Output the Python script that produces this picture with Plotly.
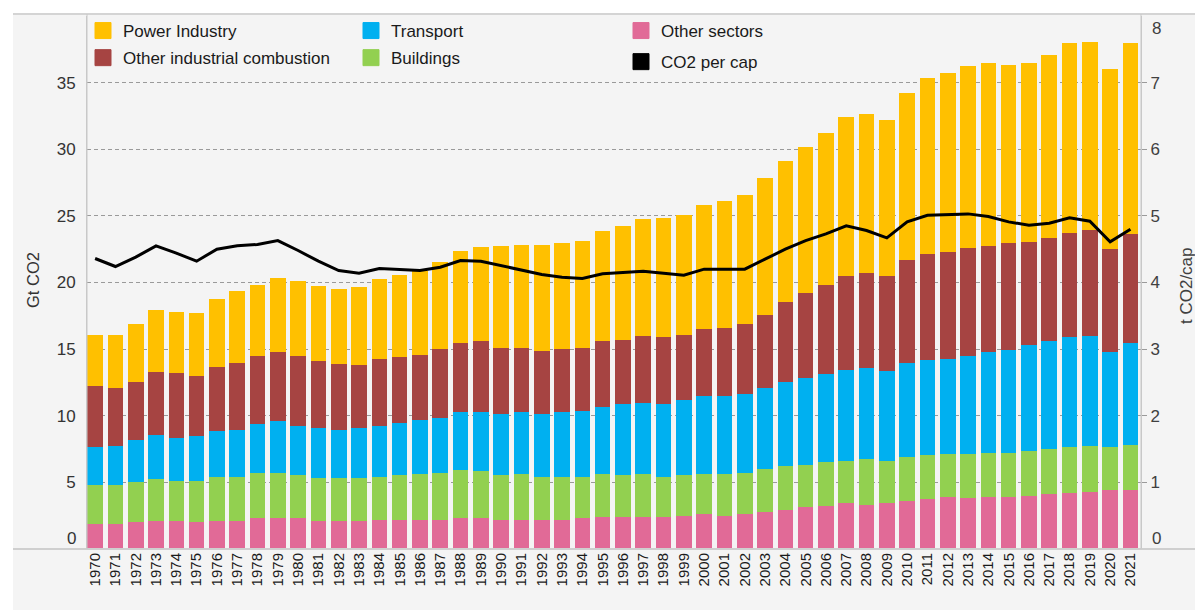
import plotly.graph_objects as go

years = list(range(1970, 2022))

other_sectors = [1.90, 1.90, 2.00, 2.09, 2.09, 2.00, 2.09, 2.09, 2.29, 2.29,
                 2.29, 2.09, 2.09, 2.09, 2.19, 2.19, 2.19, 2.19, 2.29, 2.29,
                 2.19, 2.19, 2.19, 2.19, 2.29, 2.39, 2.39, 2.39, 2.39, 2.49,
                 2.59, 2.49, 2.59, 2.79, 2.92, 3.12, 3.22, 3.42, 3.32, 3.42,
                 3.62, 3.72, 3.92, 3.82, 3.92, 3.92, 4.01, 4.11, 4.21, 4.31,
                 4.41, 4.41]
buildings = [2.91, 2.91, 3.01, 3.15, 3.05, 3.14, 3.35, 3.35, 3.45, 3.45,
             3.25, 3.25, 3.25, 3.25, 3.25, 3.35, 3.45, 3.55, 3.65, 3.55,
             3.35, 3.45, 3.25, 3.25, 3.15, 3.25, 3.15, 3.25, 3.05, 3.05,
             3.05, 3.15, 3.15, 3.24, 3.31, 3.21, 3.31, 3.21, 3.41, 3.21,
             3.31, 3.31, 3.21, 3.31, 3.31, 3.31, 3.32, 3.42, 3.42, 3.42,
             3.22, 3.42]
transport = [2.82, 2.92, 3.14, 3.31, 3.21, 3.31, 3.41, 3.51, 3.64, 3.84,
             3.71, 3.71, 3.61, 3.71, 3.81, 3.91, 4.01, 4.11, 4.31, 4.41,
             4.61, 4.61, 4.71, 4.81, 4.91, 5.01, 5.31, 5.31, 5.41, 5.61,
             5.81, 5.81, 5.91, 6.04, 6.34, 6.54, 6.64, 6.84, 6.84, 6.74,
             7.04, 7.13, 7.13, 7.33, 7.53, 7.73, 7.96, 8.06, 8.26, 8.26,
             7.13, 7.66]
other_industrial = [4.64, 4.34, 4.42, 4.74, 4.84, 4.54, 4.84, 5.04, 5.11, 5.21,
                    5.24, 5.04, 4.94, 4.74, 5.04, 4.94, 4.94, 5.14, 5.24, 5.34,
                    4.94, 4.84, 4.74, 4.74, 4.74, 4.94, 4.84, 5.04, 5.04, 4.93,
                    5.03, 5.13, 5.23, 5.51, 5.93, 6.36, 6.66, 7.05, 7.15, 7.15,
                    7.75, 7.96, 8.06, 8.16, 7.96, 7.98, 7.75, 7.75, 7.85, 7.95,
                    7.78, 8.15]
power_industry = [3.81, 4.01, 4.34, 4.64, 4.62, 4.74, 5.04, 5.34, 5.36, 5.53,
                  5.66, 5.66, 5.66, 5.86, 5.96, 6.16, 6.28, 6.56, 6.85, 7.05,
                  7.65, 7.75, 7.95, 7.95, 8.05, 8.25, 8.55, 8.75, 8.95, 8.96,
                  9.36, 9.55, 9.70, 10.28, 10.60, 10.97, 11.39, 11.90, 11.90, 11.70,
                  12.49, 13.22, 13.42, 13.64, 13.74, 13.39, 13.42, 13.72, 14.22, 14.09,
                  13.49, 14.32]
co2_per_cap = [4.36, 4.24, 4.38, 4.55, 4.44, 4.32, 4.50, 4.55, 4.57, 4.63,
               4.48, 4.32, 4.18, 4.14, 4.21, 4.19, 4.18, 4.23, 4.33, 4.32,
               4.25, 4.19, 4.12, 4.08, 4.06, 4.13, 4.15, 4.17, 4.14, 4.11,
               4.20, 4.20, 4.20, 4.35, 4.50, 4.63, 4.73, 4.85, 4.78, 4.67,
               4.91, 5.01, 5.02, 5.03, 4.99, 4.91, 4.86, 4.89, 4.97, 4.92,
               4.61, 4.80]

left_ticks = [5, 10, 15, 20, 25, 30, 35]
right_ticks = [1, 2, 3, 4, 5, 6, 7, 8]
left_title = "Gt CO2"
right_title = "t CO2/cap"

series = [
    ("Other sectors", other_sectors, "#E16A97"),
    ("Buildings", buildings, "#92D050"),
    ("Transport", transport, "#00B0F0"),
    ("Other industrial combustion", other_industrial, "#A64442"),
    ("Power Industry", power_industry, "#FFC000"),
]

FONT = "Liberation Sans, Arial, sans-serif"
BG = "#f4f4f4"

fig = go.Figure()
for name, vals, col in series:
    fig.add_trace(go.Bar(x=years, y=vals, name=name, marker=dict(color=col, line=dict(width=0)),
                         showlegend=False))

fig.add_trace(go.Scatter(x=years, y=co2_per_cap, yaxis="y2", mode="lines", name="CO2 per cap",
                         line=dict(color="black", width=3), showlegend=False))

# legend entries (3 columns)
legend_items = [
    ("Power Industry", "#FFC000", "legend"),
    ("Other industrial combustion", "#A64442", "legend"),
    ("Transport", "#00B0F0", "legend2"),
    ("Buildings", "#92D050", "legend2"),
    ("Other sectors", "#E16A97", "legend3"),
    ("CO2 per cap", "#000000", "legend3"),
]
for name, col, lg in legend_items:
    fig.add_trace(go.Scatter(x=[None], y=[None], mode="markers", name=name, legend=lg,
                             legendgroup=name,
                             marker=dict(symbol="square", size=16, color=col,
                                         line=dict(color=col, width=1))))

# The page body has an 8px margin, so the figure is drawn 8px in from the window edge.
OFF = 8
W, H = 1203 - OFF, 610 - OFF
PL, PR, PT, PB = 87, 1141, 16, 549   # plot area in window pixels
L, T = PL - OFF, PT - OFF
R = W - (PR - OFF)
B = H - (PB - OFF)
pw, ph = PR - PL, PB - PT


def px(x):
    return (x - PL) / pw


def py(y):
    return (PB - y) / ph


def cx(x):
    return (x - OFF) / W


def cy(y):
    return 1 - (y - OFF) / H


leg_common = dict(font=dict(family=FONT, size=17, color="#1a1a1a"), bgcolor="rgba(0,0,0,0)",
                  xref="container", yref="container",
                  yanchor="top", xanchor="left", y=cy(13), tracegroupgap=2)

fig.update_layout(
    width=W, height=H,
    margin=dict(l=L, r=R, t=T, b=B, pad=0, autoexpand=False),
    paper_bgcolor="white", plot_bgcolor=BG,
    barmode="stack", bargap=0.23,
    font=dict(family=FONT, color="#333333"),
    legend=dict(x=cx(83), **leg_common),
    legend2=dict(x=cx(351), **leg_common),
    legend3=dict(x=cx(621), **{**leg_common, "tracegroupgap": 6}),
    xaxis=dict(
        range=[1969.6, 2021.52], tickmode="array", tickvals=years, ticktext=[str(y) for y in years],
        tickangle=-90, tickfont=dict(family=FONT, size=15, color="#1a1a1a"),
        showgrid=False, zeroline=False, showline=False, ticks="", ticklen=0, automargin=False,
    ),
    yaxis=dict(
        range=[0, 40], tickmode="array", tickvals=left_ticks, ticktext=[str(v) for v in left_ticks],
        tickfont=dict(family=FONT, size=17, color="#333333"), automargin=False,
        showgrid=True, gridcolor="#9a9a9a", griddash="4px,3px", gridwidth=1,
        zeroline=False, showline=True, linecolor="#c8c8c8", linewidth=1,
        ticks="outside", ticklen=7, tickcolor="rgba(0,0,0,0)",
    ),
    yaxis2=dict(
        range=[0, 8], overlaying="y", side="right", tickmode="array", tickvals=right_ticks[:-1],
        ticktext=[str(v) for v in right_ticks[:-1]], automargin=False,
        tickfont=dict(family=FONT, size=17, color="#404040"),
        showgrid=False, zeroline=False, showline=True, linecolor="#c8c8c8", linewidth=1,
        ticks="outside", ticklen=5, tickcolor="#9a9a9a",
    ),
    shapes=[
        dict(type="rect", xref="paper", yref="paper", x0=px(13), x1=px(1210), y0=py(620), y1=py(14),
             fillcolor=BG, line=dict(width=0), layer="below"),
        dict(type="line", xref="paper", yref="paper", x0=px(13), x1=px(1210), y0=py(14), y1=py(14),
             line=dict(color="#d4d4d4", width=2), layer="above"),
        dict(type="line", xref="paper", yref="paper", x0=px(13), x1=px(1210), y0=0, y1=0,
             line=dict(color="#cfcfcf", width=2), layer="above"),
        dict(type="line", xref="paper", yref="paper", x0=0, x1=0, y0=0, y1=py(14),
             line=dict(color="#c8c8c8", width=1), layer="above"),
        dict(type="line", xref="paper", yref="paper", x0=1, x1=1, y0=0, y1=py(14),
             line=dict(color="#c8c8c8", width=1), layer="above"),
    ],
    annotations=[
        dict(text="0", xref="paper", yref="y", x=0, y=0, xanchor="right", yanchor="middle",
             xshift=-9, yshift=11, showarrow=False, font=dict(family=FONT, size=17, color="#333333")),
        dict(text="0", xref="paper", yref="y2", x=1, y=0, xanchor="left", yanchor="middle",
             xshift=9, yshift=11, showarrow=False, font=dict(family=FONT, size=17, color="#404040")),
        dict(text=str(right_ticks[-1]), xref="paper", yref="y2", x=1, y=right_ticks[-1],
             xanchor="left", yanchor="middle", xshift=9, yshift=-12, showarrow=False,
             font=dict(family=FONT, size=17, color="#404040")),
        dict(text=left_title, xref="paper", yref="paper", x=px(33), y=py(280), textangle=-90,
             xanchor="center", yanchor="middle", showarrow=False,
             font=dict(family=FONT, size=16.5, color="#333333")),
        dict(text=right_title, xref="paper", yref="paper", x=px(1186), y=py(286), textangle=-90,
             xanchor="center", yanchor="middle", showarrow=False,
             font=dict(family=FONT, size=17, color="#404040")),
    ],
)

fig.write_html("out.html")
